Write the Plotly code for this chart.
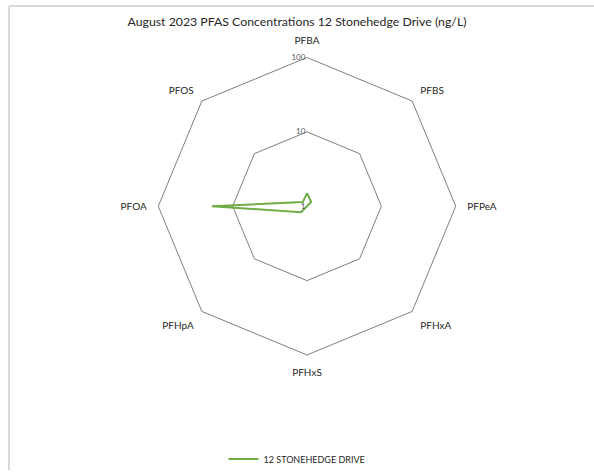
import plotly.graph_objects as go

# PFAS analytes, clockwise from the top
analytes = ["PFBA", "PFBS", "PFPeA", "PFHxA", "PFHxS", "PFHpA", "PFOA", "PFOS"]
# Concentrations at 12 Stonehedge Drive, August 2023 (ng/L)
concentrations = [1.5, 1.2, 1.0, 1.0, 1.0, 1.3, 19.0, 1.2]

radial_ticks = [1, 10, 100]
radial_tick_text = ["1", "10", "100"]

W, H = 594, 474
FONT = "Lato, 'Open Sans', sans-serif"
GRID = "#7f7f7f"
LINE_GREEN = "#70AD47"

# polar centre and outer radius in pixels
cx, cy, R = 307, 208, 150

fig = go.Figure()
fig.add_trace(go.Scatterpolar(
    r=concentrations + concentrations[:1],
    theta=analytes + analytes[:1],
    mode="lines",
    line=dict(color=LINE_GREEN, width=2),
    name="12 STONEHEDGE DRIVE",
    showlegend=True,
))

fig.update_layout(
    width=W, height=H,
    margin=dict(l=0, r=0, t=0, b=0),
    paper_bgcolor="white",
    plot_bgcolor="white",
    font=dict(family=FONT, color="#404040"),
    title=dict(
        text="August 2023 PFAS Concentrations 12 Stonehedge Drive (ng/L)",
        x=0.5, xanchor="center", y=1 - 22 / H, yanchor="middle",
        font=dict(size=12.3, color="#262626", family=FONT),
    ),
    polar=dict(
        bgcolor="white",
        gridshape="linear",
        domain=dict(x=[(cx - R) / W, (cx + R) / W],
                    y=[(H - cy - R) / H, (H - cy + R) / H]),
        radialaxis=dict(
            type="log",
            range=[0, 2],
            tickvals=radial_ticks,
            ticktext=radial_tick_text,
            angle=90,
            tickangle=90,
            side="counterclockwise",
            showline=False,
            ticks="",
            showgrid=True,
            gridcolor=GRID,
            gridwidth=1,
            tickfont=dict(size=8, color="#595959", family=FONT),
        ),
        angularaxis=dict(
            type="category",
            categoryarray=analytes,
            direction="clockwise",
            rotation=90,
            showgrid=False,
            showline=True,
            linecolor=GRID,
            linewidth=1,
            ticks="outside",
            ticklen=9,
            tickcolor="rgba(0,0,0,0)",
            tickfont=dict(size=10, color="#262626", family=FONT),
        ),
    ),
    legend=dict(
        orientation="h",
        x=0.5, xanchor="center",
        y=(H - 463) / H, yanchor="middle",
        font=dict(size=9, color="#262626", family=FONT),
        bgcolor="rgba(0,0,0,0)",
        itemwidth=30,
    ),
    shapes=[
        dict(type="line", xref="paper", yref="paper",
             x0=9 / W, x1=1, y0=1 - 6 / H, y1=1 - 6 / H,
             line=dict(color="#d9d9d9", width=2)),
        dict(type="line", xref="paper", yref="paper",
             x0=9 / W, x1=9 / W, y0=0, y1=1 - 6 / H,
             line=dict(color="#d9d9d9", width=2)),
    ],
)

fig.write_html("out.html")
